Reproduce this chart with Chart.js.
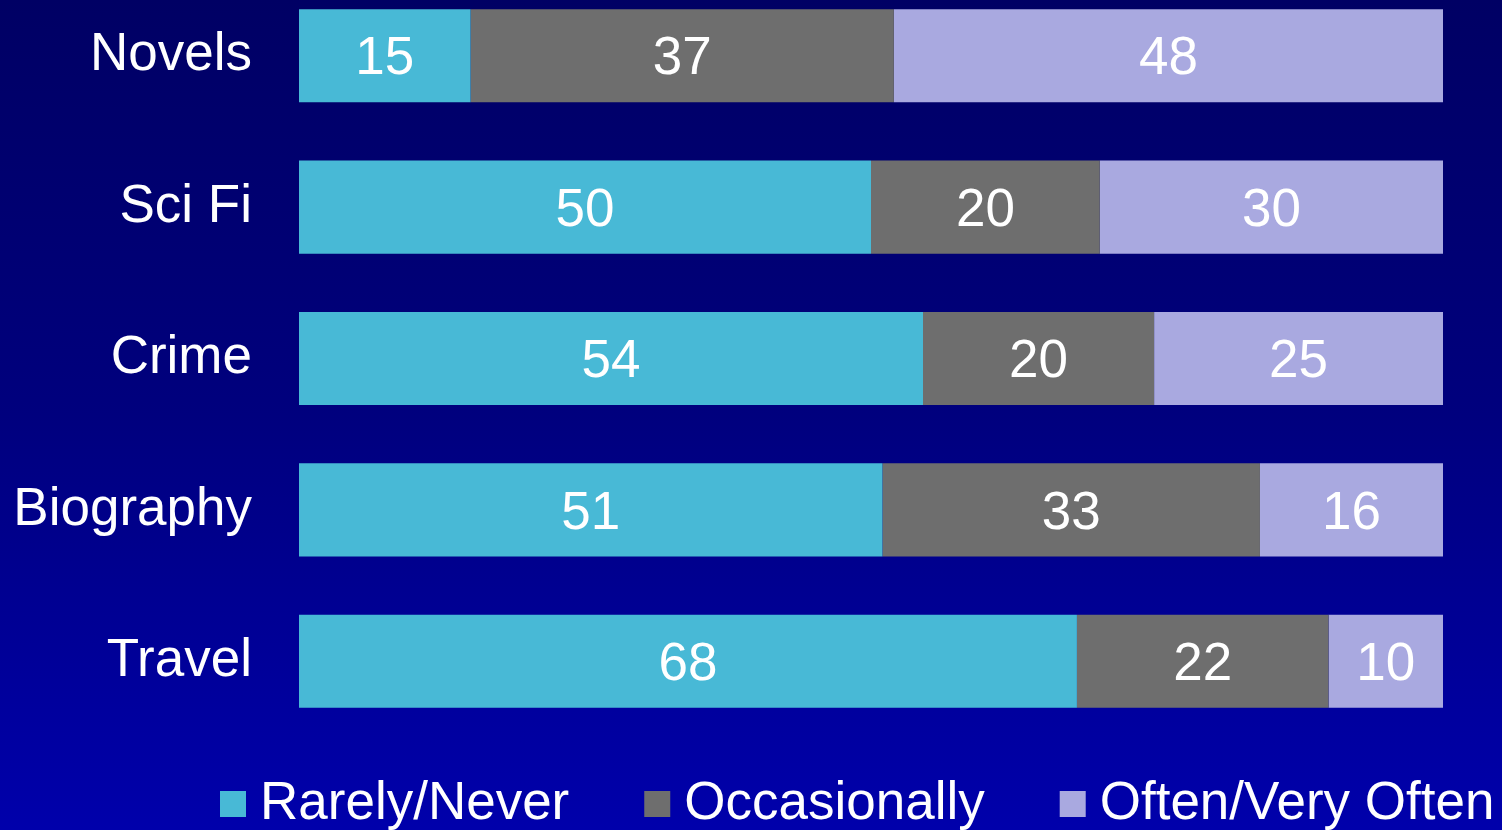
<!DOCTYPE html>
<html>
<head>
<meta charset="utf-8">
<title>Reading preferences</title>
<script src="https://cdn.jsdelivr.net/npm/chart.js@4/dist/chart.umd.min.js"></script>
<style>
  html, body {
    margin: 0;
    width: 1502px;
    height: 830px;
    overflow: hidden;
    background: linear-gradient(to bottom, #000064, #00007e 50%, #0000ab);
  }
  #readingChart {
    position: absolute;
    left: 0;
    top: -20px;
  }
</style>
</head>
<body>
<canvas id="readingChart" width="1502" height="870"></canvas>
<script>
const categories = ['Novels', 'Sci Fi', 'Crime', 'Biography', 'Travel'];
const seriesNames = ['Rarely/Never', 'Occasionally', 'Often/Very Often'];
const rarelyNever = [15, 50, 54, 51, 68];
const occasionally = [37, 20, 20, 33, 22];
const oftenVeryOften = [48, 30, 25, 16, 10];
const seriesColors = ['#48b9d6', '#6e6e6e', '#a9a9e0'];

// 100% stacked: each row is scaled to its own total
const totals = categories.map((c, i) => rarelyNever[i] + occasionally[i] + oftenVeryOften[i]);
const share = arr => arr.map((v, i) => v / totals[i] * 100);

const FONT = "'Liberation Sans', Arial, sans-serif";
Chart.defaults.font.family = FONT;

// value labels in the middle of each segment
const barLabels = {
    id: 'barLabels',
    afterDatasetsDraw(chart) {
        const ctx = chart.ctx;
        ctx.save();
        ctx.fillStyle = '#ffffff';
        ctx.font = '53px ' + FONT;
        ctx.textAlign = 'center';
        ctx.textBaseline = 'middle';
        chart.data.datasets.forEach((ds, di) => {
            chart.getDatasetMeta(di).data.forEach((bar, i) => {
                const cx = (bar.x + bar.base) / 2;
                ctx.fillText(ds.raw[i], cx, bar.y + 4);
            });
        });
        ctx.restore();
    }
};

// legend row along the bottom
const bottomLegend = {
    id: 'bottomLegend',
    afterDraw(chart) {
        const ctx = chart.ctx;
        ctx.save();
        ctx.font = '53px ' + FONT;
        ctx.textBaseline = 'middle';
        let x = 220;
        const y = 824;
        chart.data.datasets.forEach(ds => {
            ctx.fillStyle = ds.backgroundColor;
            ctx.fillRect(x, y - 13, 26, 26);
            ctx.fillStyle = '#ffffff';
            ctx.fillText(ds.label, x + 40, y);
            x += 40 + ctx.measureText(ds.label).width + 75;
        });
        ctx.restore();
    }
};

const ctx = document.getElementById('readingChart').getContext('2d');
const readingChart = new Chart(ctx, {
    type: 'bar',
    data: {
        labels: categories,
        datasets: [rarelyNever, occasionally, oftenVeryOften].map((arr, i) => ({
            label: seriesNames[i],
            data: share(arr),
            raw: arr,
            backgroundColor: seriesColors[i],
            borderWidth: 0,
            barPercentage: 0.615,
            categoryPercentage: 1
        }))
    },
    options: {
        indexAxis: 'y',
        responsive: false,
        animation: false,
        layout: { padding: { left: 0, right: 59, top: 0, bottom: 113 } },
        plugins: {
            legend: { display: false },
            tooltip: { enabled: false }
        },
        scales: {
            x: { stacked: true, min: 0, max: 100, display: false },
            y: {
                stacked: true,
                grid: { display: false, drawTicks: false },
                border: { display: false },
                ticks: {
                    color: '#ffffff',
                    font: { size: 53 },
                    padding: 47
                },
                afterFit(axis) {
                    axis.width = 299;
                    axis.paddingTop = 0;
                    axis.paddingBottom = 0;
                }
            }
        }
    },
    plugins: [barLabels, bottomLegend]
});
</script>
</body>
</html>
